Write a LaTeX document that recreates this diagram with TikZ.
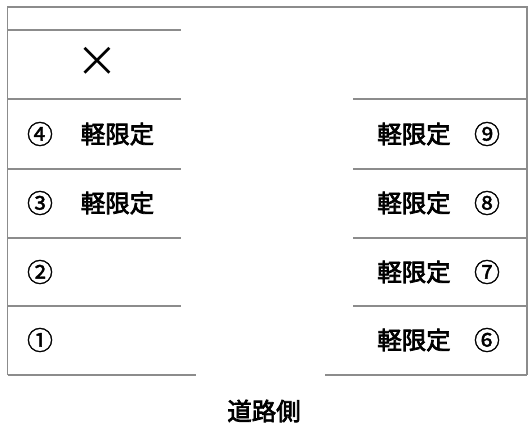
\documentclass[tikz,border=0pt]{standalone}
\usepackage{fontspec}
\setmainfont{Noto Sans CJK JP}
\newfontfamily\jpmid[FakeBold=3]{Noto Sans CJK JP}
\newfontfamily\jpnum[FakeBold=1.5]{Noto Sans CJK JP}
\begin{document}
\begin{tikzpicture}[x=1bp,y=-1bp]
    \tikzset{
        wall/.style={draw=black!45, line width=1.4bp},
        lbl/.style={font=\jpmid\fontsize{24.5}{24.5}\selectfont, inner sep=0pt},
        num/.style={font=\jpnum\fontsize{26}{26}\selectfont, inner sep=0pt}
    }
    \useasboundingbox (0,0) rectangle (531,428);
    % Outer frame
    \draw[wall] (7.5,375) -- (7.5,7) -- (527,7) -- (527,375);
    % Left bays
    \draw[wall] (7.5,30) -- (181,30);
    \draw[wall] (7.5,99) -- (181,99);
    \draw[wall] (7.5,169) -- (181,169);
    \draw[wall] (7.5,238) -- (181,238);
    \draw[wall] (7.5,306) -- (181,306);
    \draw[wall] (7.5,375) -- (196,375);
    % Right bays
    \draw[wall] (353,99) -- (527,99);
    \draw[wall] (353,169) -- (527,169);
    \draw[wall] (353,238) -- (527,238);
    \draw[wall] (353,306) -- (527,306);
    \draw[wall] (325,375) -- (527,375);

    % Labels, left side
    \node[font=\fontsize{42}{42}\selectfont, inner sep=0pt] (cross) at (97,62) {×};
    \node[num] (n4) at (40,134) {④};
    \node[lbl] (k4) at (117.5,134) {軽限定};
    \node[num] (n3) at (40,203) {③};
    \node[lbl] (k3) at (117.5,203) {軽限定};
    \node[num] (n2) at (40,272) {②};
    \node[num] (n1) at (40,340) {①};

    % Labels, right side
    \node[lbl] (k9) at (414,134) {軽限定};
    \node[num] (n9) at (487,134) {⑨};
    \node[lbl] (k8) at (414,203) {軽限定};
    \node[num] (n8) at (487,203) {⑧};
    \node[lbl] (k7) at (414,272) {軽限定};
    \node[num] (n7) at (487,272) {⑦};
    \node[lbl] (k6) at (414,340) {軽限定};
    \node[num] (n6) at (487,340) {⑥};

    \node[lbl] (road) at (264,411) {道路側};
\end{tikzpicture}
\end{document}
